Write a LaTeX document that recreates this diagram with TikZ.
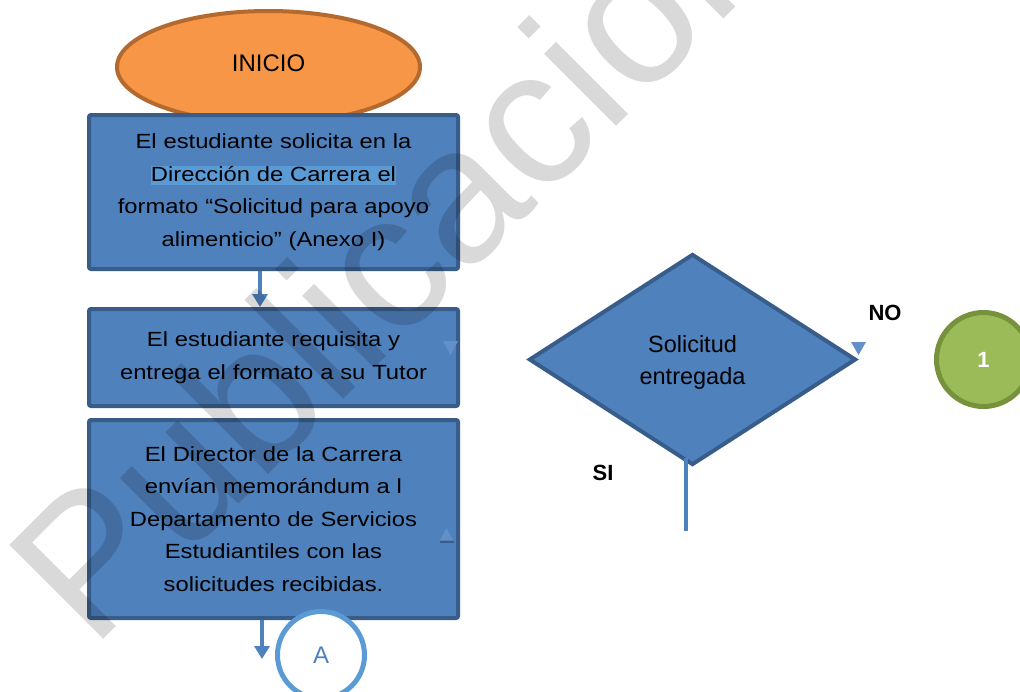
\documentclass[tikz,border=0pt]{standalone}
\usepackage{fontspec}
\setmainfont{Liberation Sans}
\newfontfamily\boxfont[FakeStretch=1.16]{Liberation Sans}
\usetikzlibrary{shapes.geometric,arrows.meta}
\definecolor{boxfill}{HTML}{4F81BD}
\definecolor{boxline}{HTML}{385D8A}
\definecolor{hlblue}{HTML}{5B9BD5}
\definecolor{orfill}{HTML}{F79646}
\definecolor{orline}{HTML}{B46A2E}
\definecolor{grfill}{HTML}{9BBB59}
\definecolor{grline}{HTML}{76923C}
\definecolor{trib}{HTML}{6390C8}
\newcommand{\hlbg}[1]{{\setlength{\fboxsep}{0pt}\colorbox{hlblue}{\rule[-0.21em]{0pt}{0.93em}\smash{#1}}}}
\begin{document}
\begin{tikzpicture}[x=1pt,y=-1pt,
  procbox/.style={rectangle, rounded corners=2pt, draw=boxline, fill=boxfill,
    line width=4pt, inner sep=0pt, minimum width=369pt, text width=360pt, align=center,
    font=\boxfont\fontsize{20.5}{32.5}\selectfont},
  arr/.style={draw=boxfill, line width=4pt, -{Triangle[length=13pt,width=15pt]}},
  conn/.style={draw=boxfill, line width=4pt},
  lbl/.style={font=\bfseries\fontsize{22}{26}\selectfont, inner sep=0pt}]
\fill[white] (0,0) rectangle (1020,691);
\useasboundingbox (0,0) rectangle (1020,691);
\clip (0,0) rectangle (1020,691);

% start
\node[ellipse, draw=orline, fill=orfill, line width=4pt, minimum width=303pt,
  minimum height=112pt, inner sep=0pt] (start) at (268.5,67) {};
\node[font=\fontsize{24}{28}\selectfont, inner sep=0pt] (starttxt) at (268.5,63) {INICIO};

% process boxes
\node[procbox, minimum height=154pt] (b1) at (273.5,192)
  {El estudiante solicita en la\\ \hlbg{Dirección de Carrera el}\\ formato “Solicitud para apoyo\\ alimenticio” (Anexo I)};
\node[procbox, minimum height=97pt] (b2) at (273.5,357.5)
  {El estudiante requisita y\\ entrega el formato a su Tutor};
\node[procbox, minimum height=198pt] (b3) at (273.5,519)
  {El Director de la Carrera\\ envían memorándum a l\\ Departamento de Servicios\\ Estudiantiles con las\\ solicitudes recibidas.};

% connectors on the left column
\coordinate (x1) at (260,0);
\coordinate (x3) at (262,0);
\coordinate (a3end) at (262,659);
\draw[arr] (b1.south -| x1) -- (b2.north -| x1);
\draw[arr] (b3.south -| x3) -- (a3end);

% stray arrowheads
\fill[trib] (443,341) -- (458,341) -- (450.5,355) -- cycle;
\draw[boxline, line width=2pt] (440,542) -- (454,542);
\fill[trib] (440,540) -- (453,540) -- (446.5,528) -- cycle;

% connector A
\node[circle, draw=hlblue, fill=white, line width=5pt, minimum size=87pt, inner sep=0pt,
  text=boxfill, font=\fontsize{24}{28}\selectfont] (ca) at (321,655) {A};

% decision
\node[diamond, draw=boxline, fill=boxfill, line width=4pt, minimum width=327pt,
  minimum height=211pt, inner sep=0pt, align=center,
  font=\fontsize{23.5}{32}\selectfont] (d) at (692.5,359.5) {};
\node[align=center, inner sep=0pt, font=\fontsize{23.5}{32}\selectfont] (dtxt) at (692.5,362) {Solicitud\\ entregada};
\coordinate (dl1) at (686,458);
\coordinate (dl2) at (686,531);
\draw[conn] (dl1) -- (dl2);
\fill[trib] (851,342) -- (866,342) -- (858.5,355) -- cycle;

\node[lbl] (no) at (885,313) {NO};
\node[lbl] (si) at (603,473) {SI};

% connector 1
\node[circle, draw=grline, fill=grfill, line width=5pt, minimum size=94pt, inner sep=0pt,
  text=white, font=\bfseries\fontsize{22}{26}\selectfont] (c1) at (983.5,359.5) {1};

% watermark
\node[rotate=45, anchor=base west, inner sep=0pt, text=black, text opacity=0.15,
  font=\fontsize{193}{200}\selectfont] (wm) at (92,651) {Publicación};
\end{tikzpicture}
\end{document}
